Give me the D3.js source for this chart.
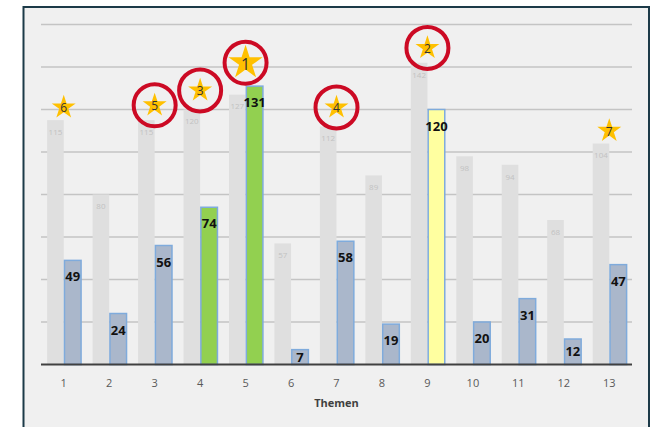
<!DOCTYPE html>
<html>
<head>
<meta charset="utf-8">
<script src="https://cdn.jsdelivr.net/npm/d3@7"></script>
<style>
  body { margin: 0; background: #ffffff; }
  text { font-family: "Open Sans", "Noto Sans", sans-serif; }
</style>
</head>
<body>
<script>
// Chart data
const themes = ["1", "2", "3", "4", "5", "6", "7", "8", "9", "10", "11", "12", "13"];
const backValues = [115, 80, 115, 120, 127, 57, 112, 89, 142, 98, 94, 68, 104];
const frontValues = [49, 24, 56, 74, 131, 7, 58, 19, 120, 20, 31, 12, 47];
const frontKinds = ["base", "base", "base", "top", "top", "base", "base", "base", "mark", "base", "base", "base", "base"];
const starRanks = [6, null, 5, 3, 1, null, 4, null, 2, null, null, null, 7];
const starValues = [121, null, 122, 129, 142, null, 121, null, 149, null, null, null, 110];
const yTicks = [20, 40, 60, 80, 100, 120, 140, 160];

// Customizable constants
const WIDTH = 652;
const HEIGHT = 427;
const PLOT_LEFT = 41;
const PLOT_RIGHT = 632;
const PLOT_TOP = 24.5;
const PLOT_BOTTOM = 364.5;
const KIND_FILL = { base: "#aab7cb", top: "#92d050", mark: "#ffffa0" };
const CIRCLED_MAX_RANK = 5;

var svg = d3.select("body").append("svg")
  .attr("width", WIDTH)
  .attr("height", HEIGHT);

// Frame
svg.append("rect")
  .attr("x", 23.5).attr("y", 7)
  .attr("width", 625.5).attr("height", 430)
  .attr("fill", "#f0f0f0")
  .attr("stroke", "#1c3a48")
  .attr("stroke-width", 2);

var x = d3.scaleBand().domain(themes).range([PLOT_LEFT, PLOT_RIGHT]);
var y = d3.scaleLinear().domain([0, 160]).range([PLOT_BOTTOM, PLOT_TOP]);
var barW = x.bandwidth() * 0.365;
var mid = function(t) { return x(t) + x.bandwidth() / 2; };

// Gridlines
svg.append("g").selectAll("line").data(yTicks).join("line")
  .attr("x1", PLOT_LEFT).attr("x2", PLOT_RIGHT)
  .attr("y1", d => y(d)).attr("y2", d => y(d))
  .attr("stroke", "#c4c4c4")
  .attr("stroke-width", 1.5);

// Background (gray) bars
svg.append("g").selectAll("rect").data(backValues).join("rect")
  .attr("x", (d, i) => mid(themes[i]) - barW)
  .attr("y", d => y(d))
  .attr("width", barW)
  .attr("height", d => y(0) - y(d))
  .attr("fill", "#dfdfdf");

svg.append("g").selectAll("text").data(backValues).join("text")
  .attr("x", (d, i) => mid(themes[i]) - barW / 2)
  .attr("y", d => y(d) + 12)
  .attr("dy", "0.35em")
  .attr("text-anchor", "middle")
  .attr("font-size", 8)
  .attr("fill", "#c2c2c2")
  .text(d => d);

// Front bars
svg.append("g").selectAll("rect").data(frontValues).join("rect")
  .attr("x", (d, i) => mid(themes[i]) + 0.75)
  .attr("y", d => y(d))
  .attr("width", barW)
  .attr("height", d => y(0) - y(d))
  .attr("fill", (d, i) => KIND_FILL[frontKinds[i]])
  .attr("stroke", "#7fabdc")
  .attr("stroke-width", 1.5);

svg.append("g").selectAll("text").data(frontValues).join("text")
  .attr("x", (d, i) => mid(themes[i]) + 0.75 + barW / 2)
  .attr("y", d => Math.min(y(d) + 16.5, (y(d) + y(0)) / 2))
  .attr("dy", "0.35em")
  .attr("text-anchor", "middle")
  .attr("font-size", 13)
  .attr("font-weight", "bold")
  .attr("fill", "#111111")
  .text(d => d);

// Baseline
svg.append("line")
  .attr("x1", PLOT_LEFT).attr("x2", PLOT_RIGHT)
  .attr("y1", y(0)).attr("y2", y(0))
  .attr("stroke", "#404040")
  .attr("stroke-width", 2);

// X axis
var xAxis = svg.append("g")
  .attr("transform", "translate(0," + y(0) + ")")
  .call(d3.axisBottom(x).tickSize(0).tickPadding(14.5));
xAxis.select(".domain").remove();
xAxis.selectAll("text")
  .attr("font-size", 11)
  .attr("fill", "#595959")
  .style("font-family", "'Open Sans', sans-serif");

svg.append("text")
  .attr("x", (PLOT_LEFT + PLOT_RIGHT) / 2)
  .attr("y", 407)
  .attr("text-anchor", "middle")
  .attr("font-size", 11)
  .attr("font-weight", "bold")
  .attr("fill", "#404040")
  .text("Themen");

// Ranking stars
var stars = themes.map((t, i) => ({ theme: t, rank: starRanks[i], value: starValues[i] }))
  .filter(d => d.rank !== null);

var starG = svg.append("g").selectAll("g").data(stars).join("g")
  .attr("transform", d => "translate(" + mid(d.theme) + "," + y(d.value) + ")");

starG.append("path")
  .attr("d", d => d3.symbol(d3.symbolStar, d.rank === 1 ? 360 : 178)())
  .attr("fill", "#ffc000");

starG.append("text")
  .attr("dy", d => d.rank === 1 ? "0.45em" : "0.4em")
  .attr("text-anchor", "middle")
  .attr("font-size", d => d.rank === 1 ? 16 : 12)
  .attr("fill", "#333333")
  .text(d => d.rank);

starG.filter(d => d.rank <= CIRCLED_MAX_RANK).append("circle")
  .attr("r", 21)
  .attr("fill", "none")
  .attr("stroke", "#cc0a24")
  .attr("stroke-width", 4);
</script>
</body>
</html>
